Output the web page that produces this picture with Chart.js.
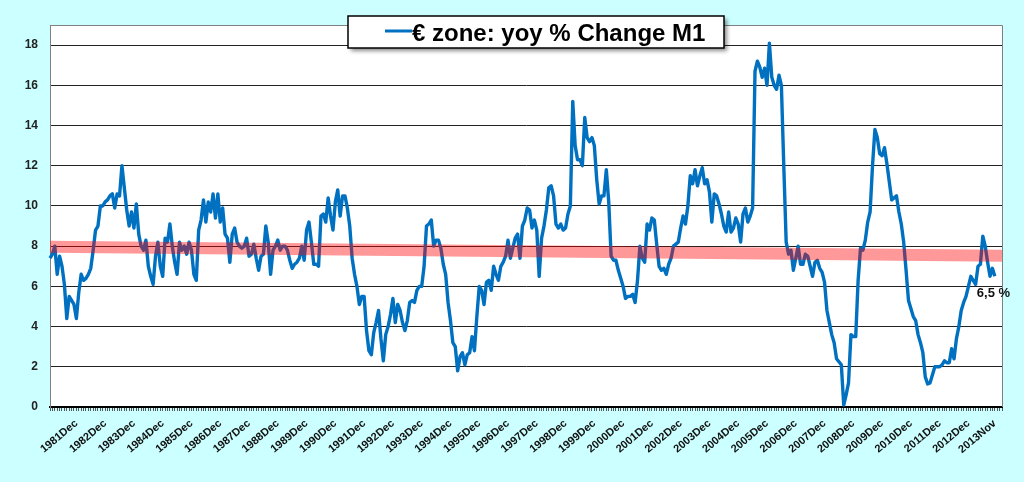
<!DOCTYPE html>
<html>
<head>
<meta charset="utf-8">
<script src="https://cdn.jsdelivr.net/npm/chart.js@4.4.1/dist/chart.umd.min.js"></script>
<style>
html,body{margin:0;padding:0;background:#CCFFFF;overflow:hidden;}
#wrap{width:1024px;height:482px;position:relative;}
</style>
</head>
<body>
<div id="wrap"><canvas id="c" width="1024" height="482"></canvas></div>
<script>
// ---------- DATA ----------
const startYear = 1981;
const monthNames = ['Jan','Feb','Mar','Apr','May','Jun','Jul','Aug','Sep','Oct','Nov','Dec'];
const monthCount = 398; // Jan 1981 .. Feb 2014 (axis runs a little past the last observation)
const categories = [];
for (let i = 0; i < monthCount; i++) {
  categories.push((startYear + Math.floor(i / 12)) + monthNames[i % 12]);
}

const tickLabels = ['1981Dec','1982Dec','1983Dec','1984Dec','1985Dec','1986Dec','1987Dec','1988Dec',
  '1989Dec','1990Dec','1991Dec','1992Dec','1993Dec','1994Dec','1995Dec','1996Dec','1997Dec',
  '1998Dec','1999Dec','2000Dec','2001Dec','2002Dec','2003Dec','2004Dec','2005Dec','2006Dec',
  '2007Dec','2008Dec','2009Dec','2010Dec','2011Dec','2012Dec','2013Nov'];

const yTicks = [0, 2, 4, 6, 8, 10, 12, 14, 16, 18];

// € zone M1, yoy % change, monthly Jan 1981 .. Nov 2013
const m1Growth = [
  7.4, 7.6, 8.0, 6.6, 7.5, 7.0, 6.1, 4.4, 5.5, 5.3, 5.1, 4.4,
  5.7, 6.6, 6.3, 6.4, 6.6, 6.9, 7.8, 8.8, 9.0, 10.0, 10.0, 10.2,
  10.3, 10.5, 10.6, 9.9, 10.6, 10.5, 12.0, 10.9, 9.8, 9.0, 9.7, 8.9,
  10.1, 8.6, 8.0, 7.8, 8.3, 7.0, 6.5, 6.1, 7.5, 8.2, 7.0, 6.5,
  8.4, 8.2, 9.1, 8.0, 7.2, 6.6, 8.2, 7.8, 8.0, 7.6, 8.2, 7.8,
  6.6, 6.3, 8.8, 9.3, 10.3, 9.2, 10.2, 9.7, 10.6, 9.4, 10.6, 9.2,
  9.9, 8.6, 8.4, 7.2, 8.6, 8.9, 8.2, 8.0, 7.9, 8.0, 8.4, 7.5,
  7.6, 8.1, 7.4, 6.8, 7.5, 7.6, 9.0, 8.2, 6.6, 7.8, 8.0, 8.3,
  7.8, 8.0, 8.0, 7.8, 7.3, 6.9, 7.1, 7.2, 7.4, 8.0, 7.3, 8.8,
  9.2, 8.2, 7.1, 7.1, 7.0, 9.5, 9.6, 9.2, 10.4, 9.5, 8.8, 10.2,
  10.8, 9.5, 10.5, 10.5, 9.9, 9.0, 7.4, 6.6, 6.0, 5.1, 5.5, 5.5,
  3.8, 2.8, 2.6, 3.7, 4.2, 4.8, 3.4, 2.3, 3.6, 4.0, 4.6, 5.4,
  4.2, 5.1, 4.8, 4.2, 3.8, 4.3, 5.2, 5.3, 5.2, 5.8, 6.0, 6.0,
  7.0, 9.0, 9.1, 9.3, 8.0, 8.3, 8.3, 7.9, 7.1, 6.6, 5.2, 4.3,
  3.2, 3.0, 1.8, 2.5, 2.7, 2.1, 2.6, 2.7, 3.5, 2.8, 4.5, 6.0,
  5.8, 5.1, 6.2, 6.3, 5.8, 7.0, 6.6, 6.3, 7.0, 7.2, 7.5, 8.3,
  7.4, 7.9, 8.4, 8.6, 7.4, 9.0, 9.3, 9.9, 9.8, 8.9, 9.3, 8.8,
  6.5, 8.4, 9.0, 9.8, 10.9, 11.0, 10.5, 9.1, 8.9, 9.1, 8.8, 8.9,
  9.6, 10.0, 15.2, 13.0, 12.3, 12.3, 12.0, 14.4, 13.4, 13.2, 13.4, 13.0,
  11.3, 10.1, 10.5, 10.5, 11.8, 10.2, 7.5, 7.3, 7.3, 6.8, 6.4, 6.0,
  5.4, 5.5, 5.5, 5.6, 5.2, 6.3, 8.0, 7.4, 7.2, 9.1, 8.8, 9.4,
  9.3, 8.1, 7.0, 6.8, 6.9, 6.6, 7.1, 7.4, 8.0, 8.1, 8.2, 8.9,
  9.5, 9.1, 10.0, 11.5, 11.1, 11.8, 11.0, 11.5, 11.9, 11.1, 11.3, 10.7,
  9.2, 10.6, 10.5, 10.1, 9.6, 9.0, 8.7, 9.7, 8.7, 8.9, 9.4, 9.1,
  8.2, 9.6, 9.9, 9.2, 9.5, 9.9, 16.7, 17.2, 16.9, 16.4, 16.85, 16.0,
  18.1, 16.4, 16.0, 15.8, 16.5, 16.0, 12.0, 8.2, 7.6, 7.8, 6.8, 7.4,
  8.0, 7.1, 7.1, 7.6, 7.5, 7.0, 6.5, 7.2, 7.3, 6.9, 6.7, 6.2,
  4.8, 4.2, 3.6, 3.2, 2.4, 2.25, 2.1, 0.1, 0.6, 1.2, 3.6, 3.5,
  3.5, 6.3, 7.9, 7.8, 8.3, 9.2, 9.7, 12.0, 13.8, 13.4, 12.6, 12.5,
  12.9, 12.1, 11.2, 10.3, 10.4, 10.5, 9.7, 9.1, 8.2, 6.8, 5.3, 4.9,
  4.5, 4.3, 3.6, 3.2, 2.7, 1.5, 1.15, 1.2, 1.6, 2.0, 2.0, 2.0,
  2.1, 2.3, 2.2, 2.2, 2.9, 2.4, 3.4, 4.0, 4.8, 5.2, 5.5, 6.0,
  6.5, 6.3, 6.1, 7.0, 7.1, 8.5, 8.0, 7.2, 6.5, 6.9, 6.5
];

const trendStart = 7.97;
const trendEnd = 7.52;
const seriesName = '€ zone: yoy % Change M1';
const lastLabel = '6,5 %';

// ---------- CHART ----------
const FONT = "'Liberation Sans', Arial, sans-serif";
const tickSet = new Set(tickLabels);
const trendData = categories.map((_, i) => i === 0 ? trendStart : (i === categories.length - 1 ? trendEnd : null));

const decorPlugin = {
  id: 'decor',
  beforeDraw(chart) {
    const ctx = chart.ctx, a = chart.chartArea;
    ctx.save();
    ctx.fillStyle = '#CCFFFF';
    ctx.fillRect(0, 0, chart.width, chart.height);
    ctx.fillStyle = '#FFFFFF';
    ctx.fillRect(a.left, a.top, a.right - a.left, a.bottom - a.top);
    ctx.restore();
  },
  afterDatasetsDraw(chart) {
    const ctx = chart.ctx, a = chart.chartArea;
    ctx.save();
    ctx.strokeStyle = '#808080';
    ctx.lineWidth = 1;
    ctx.beginPath();
    ctx.moveTo(a.left, a.top + 0.5);
    ctx.lineTo(a.right + 0.5, a.top + 0.5);
    ctx.lineTo(a.right + 0.5, a.bottom);
    ctx.stroke();
    const meta = chart.getDatasetMeta(0);
    const pt = meta.data[m1Growth.length - 1];
    if (pt) {
      ctx.fillStyle = '#111';
      ctx.font = 'bold 13px ' + FONT;
      ctx.textAlign = 'left';
      ctx.textBaseline = 'middle';
      ctx.fillText(lastLabel, pt.x - 18, pt.y + 17);
    }
    ctx.restore();
  },
  afterDraw(chart) {
    const ctx = chart.ctx;
    const bx = 348, by = 16, bw = 376, bh = 32;
    ctx.save();
    ctx.shadowColor = 'rgba(0,0,0,0.45)';
    ctx.shadowBlur = 4;
    ctx.shadowOffsetX = 3;
    ctx.shadowOffsetY = 3;
    ctx.fillStyle = '#FFFFFF';
    ctx.fillRect(bx, by, bw, bh);
    ctx.shadowColor = 'transparent';
    ctx.strokeStyle = '#000';
    ctx.lineWidth = 1.5;
    ctx.strokeRect(bx, by, bw, bh);
    ctx.strokeStyle = '#0070C0';
    ctx.lineWidth = 3;
    ctx.beginPath();
    ctx.moveTo(385, 31);
    ctx.lineTo(412, 31);
    ctx.stroke();
    ctx.fillStyle = '#000';
    ctx.font = 'bold 24px ' + FONT;
    ctx.textAlign = 'left';
    ctx.textBaseline = 'alphabetic';
    ctx.fillText(seriesName, 412, 41);
    ctx.restore();
  }
};

new Chart(document.getElementById('c'), {
  type: 'line',
  data: {
    labels: categories,
    datasets: [
      {
        label: seriesName,
        data: m1Growth,
        borderColor: '#0070C0',
        borderWidth: 3.4,
        pointRadius: 0,
        tension: 0,
        borderJoinStyle: 'round',
        order: 1
      },
      {
        label: 'trend',
        data: trendData,
        borderColor: 'rgba(255,0,0,0.4)',
        borderWidth: 12,
        pointRadius: 0,
        spanGaps: true,
        borderCapStyle: 'butt',
        order: 0
      }
    ]
  },
  options: {
    responsive: false,
    animation: false,
    devicePixelRatio: 1,
    layout: { padding: { left: 0, top: 25, right: 22, bottom: 0 } },
    plugins: { legend: { display: false }, tooltip: { enabled: false } },
    scales: {
      x: {
        type: 'category',
        offset: false,
        grid: { display: true, drawOnChartArea: false, drawTicks: true, tickLength: 4, color: '#555', lineWidth: 1 },
        border: { display: true, color: '#000', width: 2 },
        ticks: {
          autoSkip: false,
          maxRotation: 40,
          minRotation: 40,
          padding: 6,
          color: '#111',
          font: { family: FONT, weight: 'bold', size: 11 },
          callback: function (v, i) { const l = categories[i]; return tickSet.has(l) ? l : ''; }
        },
        afterFit: function (s) { s.height = 75; }
      },
      y: {
        min: 0,
        max: 19,
        afterBuildTicks: function (s) { s.ticks = yTicks.map(v => ({ value: v })); },
        grid: { color: '#222', lineWidth: 1, drawTicks: false },
        border: { display: true, color: '#808080', width: 1 },
        ticks: {
          padding: 12,
          color: '#222',
          font: { family: FONT, weight: 'bold', size: 12 },
          callback: function (v) { return String(v); }
        },
        afterFit: function (s) { s.width = 50; }
      }
    }
  },
  plugins: [decorPlugin]
});
</script>
</body>
</html>
